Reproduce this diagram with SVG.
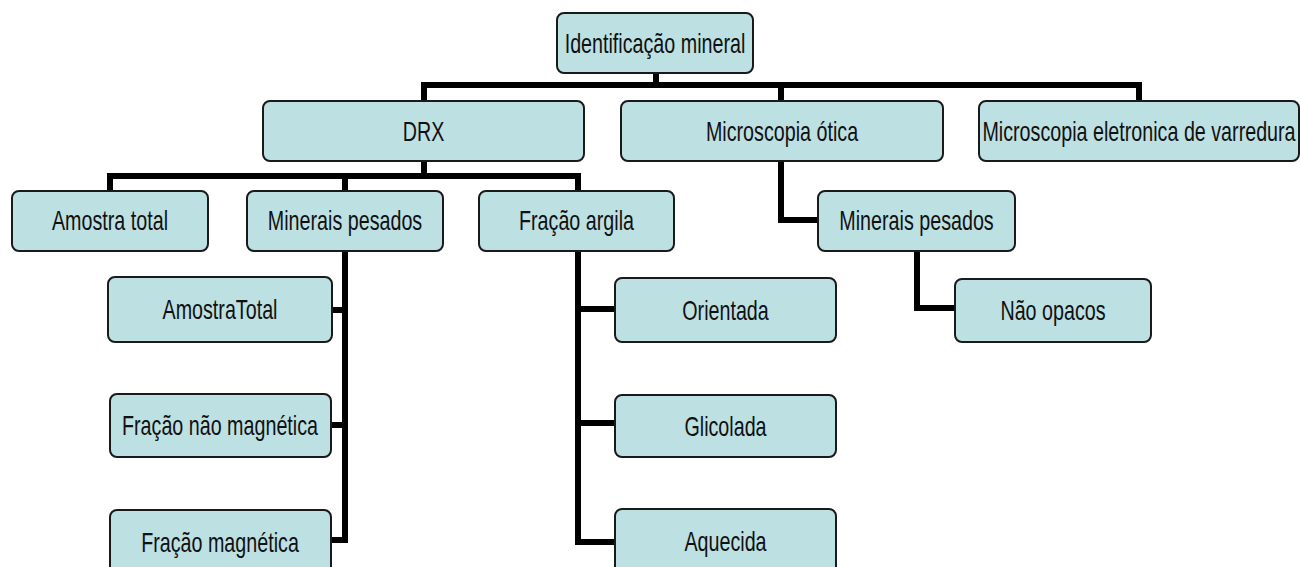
<svg xmlns="http://www.w3.org/2000/svg" width="1301" height="567" viewBox="0 0 1301 567">
<style>
.box{fill:#bde0e3;stroke:#1a1a1a;stroke-width:2}
.lbl{font-family:"Liberation Sans",Arial,sans-serif;font-size:27px;fill:#111;text-anchor:middle}
.con{fill:none;stroke:#000;stroke-width:6;stroke-linejoin:miter;stroke-linecap:butt}
</style>
<rect width="1301" height="567" fill="#fff"/>
<g id="connectors">
<polyline class="con" points="656,73 656,85"/>
<polyline class="con" points="424,101 424,85 1139,85 1139,101"/>
<polyline class="con" points="781,85 781,101"/>
<polyline class="con" points="424,161 424,176"/>
<polyline class="con" points="110,191 110,176 578,176 578,191"/>
<polyline class="con" points="345,176 345,191"/>
<polyline class="con" points="781,161 781,220 818,220"/>
<polyline class="con" points="917,251 917,308 955,308"/>
<polyline class="con" points="345,251 345,540 331,540"/>
<polyline class="con" points="332,310 345,310"/>
<polyline class="con" points="331,425 345,425"/>
<polyline class="con" points="615,542 578,542 578,251"/>
<polyline class="con" points="578,309 615,309"/>
<polyline class="con" points="578,423 615,423"/>
</g>
<g id="n-root"><rect class="box" x="557" y="13" width="196" height="60" rx="7"/><text class="lbl" transform="translate(655,53) scale(0.73,1)">Identificação mineral</text></g>
<g id="n-drx"><rect class="box" x="263" y="101" width="321" height="60" rx="7"/><text class="lbl" transform="translate(423.5,141) scale(0.73,1)">DRX</text></g>
<g id="n-mo"><rect class="box" x="621" y="101" width="322" height="60" rx="7"/><text class="lbl" transform="translate(782,141) scale(0.73,1)">Microscopia ótica</text></g>
<g id="n-mev"><rect class="box" x="979" y="101" width="320" height="60" rx="7"/><text class="lbl" transform="translate(1139,141) scale(0.73,1)">Microscopia eletronica de varredura</text></g>
<g id="n-at"><rect class="box" x="12" y="191" width="196" height="60" rx="7"/><text class="lbl" transform="translate(110,230) scale(0.73,1)">Amostra total</text></g>
<g id="n-mp"><rect class="box" x="247" y="191" width="196" height="60" rx="7"/><text class="lbl" transform="translate(345,230) scale(0.73,1)">Minerais pesados</text></g>
<g id="n-fa"><rect class="box" x="479" y="191" width="195" height="60" rx="7"/><text class="lbl" transform="translate(576.5,230) scale(0.73,1)">Fração argila</text></g>
<g id="n-mp2"><rect class="box" x="818" y="191" width="197" height="60" rx="7"/><text class="lbl" transform="translate(916.5,230) scale(0.73,1)">Minerais pesados</text></g>
<g id="n-no"><rect class="box" x="955" y="279" width="196" height="63" rx="7"/><text class="lbl" transform="translate(1053,320) scale(0.73,1)">Não opacos</text></g>
<g id="n-at2"><rect class="box" x="108" y="277" width="224" height="65" rx="7"/><text class="lbl" transform="translate(220,319) scale(0.73,1)">AmostraTotal</text></g>
<g id="n-fnm"><rect class="box" x="110" y="394" width="221" height="63" rx="7"/><text class="lbl" transform="translate(220,435) scale(0.73,1)">Fração não magnética</text></g>
<g id="n-fm"><rect class="box" x="110" y="510" width="221" height="64" rx="7"/><text class="lbl" transform="translate(220,552) scale(0.73,1)">Fração magnética</text></g>
<g id="n-or"><rect class="box" x="615" y="278" width="221" height="64" rx="7"/><text class="lbl" transform="translate(725.5,320) scale(0.73,1)">Orientada</text></g>
<g id="n-gl"><rect class="box" x="615" y="395" width="221" height="62" rx="7"/><text class="lbl" transform="translate(725.5,436) scale(0.73,1)">Glicolada</text></g>
<g id="n-aq"><rect class="box" x="615" y="509" width="221" height="64" rx="7"/><text class="lbl" transform="translate(725.5,551) scale(0.73,1)">Aquecida</text></g>
</svg>
